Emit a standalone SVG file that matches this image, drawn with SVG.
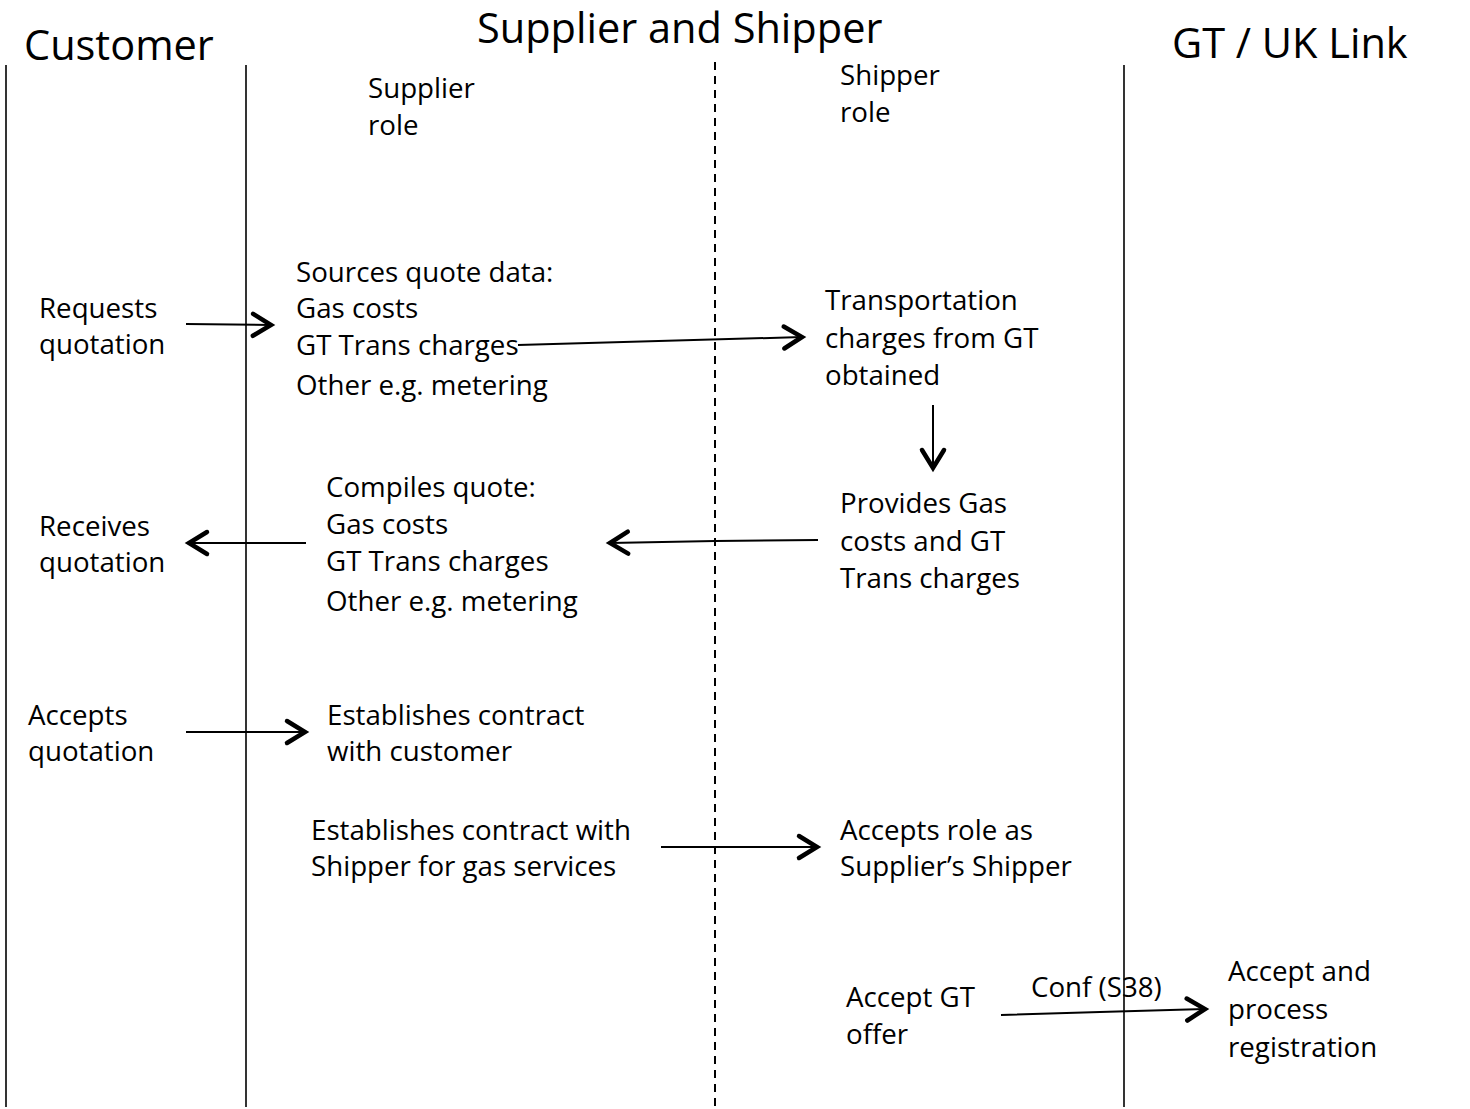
<svg xmlns="http://www.w3.org/2000/svg" width="1470" height="1109" viewBox="0 0 1470 1109">
  <defs>
    <marker id="head" markerUnits="userSpaceOnUse" markerWidth="34" markerHeight="34" viewBox="-24 -17 28 34" refX="0" refY="0" orient="auto">
      <path d="M-18,-11 L0,0 L-18,11" fill="none" stroke="#000" stroke-width="4.5" stroke-linecap="round" stroke-linejoin="miter"/>
    </marker>
    <style>
      text { font-family: "Open Sans", "Noto Sans", "Liberation Sans", sans-serif; fill: #000; }
      .h { font-size: 41.5px; }
      .t { font-size: 27.7px; }
      .lane { stroke: #000; stroke-width: 1.6; fill: none; }
      .dash { stroke-dasharray: 8 6; stroke-width: 2; }
      .arrow { stroke: #000; stroke-width: 2; fill: none; marker-end: url(#head); }
    </style>
  </defs>
  <rect width="1470" height="1109" fill="#fff"/>

  <!-- swim lane dividers -->
  <g id="lanes">
    <line class="lane" x1="6" y1="65" x2="6" y2="1107"/>
    <line class="lane" x1="246" y1="65" x2="246" y2="1107"/>
    <line class="lane dash" x1="715" y1="62" x2="715" y2="1107"/>
    <line class="lane" x1="1124" y1="65" x2="1124" y2="1107"/>
  </g>

  <!-- lane headings -->
  <g id="headings">
    <text class="h" x="24" y="60">Customer</text>
    <text class="h" x="477" y="43">Supplier and Shipper</text>
    <text class="h" x="1172" y="58">GT / UK Link</text>
    <text class="t" x="368" y="98">Supplier</text>
    <text class="t" x="368" y="135">role</text>
    <text class="t" x="840" y="85">Shipper</text>
    <text class="t" x="840" y="122">role</text>
  </g>

  <g id="requests-quotation">
    <text class="t" x="39" y="318">Requests</text>
    <text class="t" x="39" y="354">quotation</text>
  </g>
  <g id="sources-quote-data">
    <text class="t" x="296" y="282">Sources quote data:</text>
    <text class="t" x="296" y="318">Gas costs</text>
    <text class="t" x="296" y="355">GT Trans charges</text>
    <text class="t" x="296" y="395">Other e.g. metering</text>
  </g>
  <g id="transportation-charges">
    <text class="t" x="825" y="310">Transportation</text>
    <text class="t" x="825" y="348">charges from GT</text>
    <text class="t" x="825" y="385">obtained</text>
  </g>
  <g id="receives-quotation">
    <text class="t" x="39" y="536">Receives</text>
    <text class="t" x="39" y="572">quotation</text>
  </g>
  <g id="compiles-quote">
    <text class="t" x="326" y="497">Compiles quote:</text>
    <text class="t" x="326" y="534">Gas costs</text>
    <text class="t" x="326" y="571">GT Trans charges</text>
    <text class="t" x="326" y="611">Other e.g. metering</text>
  </g>
  <g id="provides-gas-costs">
    <text class="t" x="840" y="513">Provides Gas</text>
    <text class="t" x="840" y="551">costs and GT</text>
    <text class="t" x="840" y="588">Trans charges</text>
  </g>
  <g id="accepts-quotation">
    <text class="t" x="28" y="725">Accepts</text>
    <text class="t" x="28" y="761">quotation</text>
  </g>
  <g id="contract-with-customer">
    <text class="t" x="327" y="725">Establishes contract</text>
    <text class="t" x="327" y="761">with customer</text>
  </g>
  <g id="contract-with-shipper">
    <text class="t" x="311" y="840">Establishes contract with</text>
    <text class="t" x="311" y="876">Shipper for gas services</text>
  </g>
  <g id="accepts-shipper-role">
    <text class="t" x="840" y="840">Accepts role as</text>
    <text class="t" x="840" y="876">Supplier’s Shipper</text>
  </g>
  <g id="accept-gt-offer">
    <text class="t" x="846" y="1007">Accept GT</text>
    <text class="t" x="846" y="1044">offer</text>
  </g>
  <g id="accept-registration">
    <text class="t" x="1228" y="981">Accept and</text>
    <text class="t" x="1228" y="1019">process</text>
    <text class="t" x="1228" y="1057">registration</text>
  </g>

  <!-- connectors -->
  <g id="connectors">
    <path class="arrow" d="M186,324 L271,325"/>
    <path class="arrow" d="M518,345 L802,337"/>
    <path class="arrow" d="M933,405 L933,468"/>
    <path class="arrow" d="M306,543 L189,543"/>
    <path class="arrow" d="M818,540 L715,541 L610,543"/>
    <path class="arrow" d="M186,732 L305,732"/>
    <path class="arrow" d="M661,847 L817,847"/>
    <path class="arrow" d="M1001,1015 L1100,1012 L1205,1009"/>
    <text class="t" x="1031" y="997">Conf (S38)</text>
  </g>
</svg>
